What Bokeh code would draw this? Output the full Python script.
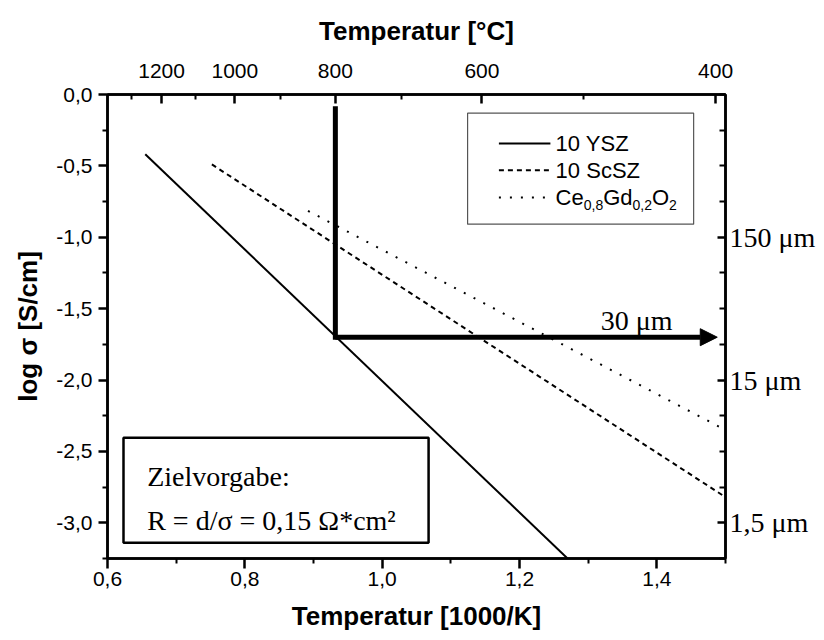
from bokeh.plotting import figure
from bokeh.models import (LinearAxis, FixedTicker, CustomJSTickFormatter, Range1d,
                          Arrow, NormalHead, Label, ColumnDataSource)
from bokeh.embed import file_html
from bokeh.resources import INLINE
from bokeh.core.properties import value

# ---------------- data ----------------
ysz_x = [0.655, 1.270]
ysz_y = [-0.418, -3.250]
scsz_x = [0.752, 1.500]
scsz_y = [-0.490, -2.820]
cgo_x = [0.892, 1.500]
cgo_y = [-0.815, -2.350]

x_major = [0.6, 0.8, 1.0, 1.2, 1.4]
x_minor = [0.7, 0.9, 1.1, 1.3, 1.5]
y_major = [0.0, -0.5, -1.0, -1.5, -2.0, -2.5, -3.0]
y_minor = [-0.25, -0.75, -1.25, -1.75, -2.25, -2.75, -3.25]
top_major_C = [1200, 1000, 800, 600, 400]
top_minor_C = [1300, 1100, 900, 700, 500]
right_major = [-1, -2, -3]
right_labels = ["150 μm", "15 μm", "1,5 μm"]
right_minor = [0.0, -0.25, -0.5, -0.75, -1.25, -1.5, -1.75, -2.25, -2.5, -2.75, -3.25]

target_T_C = 800          # vertical marker at 800 °C
target_log_sigma = -1.7   # 30 µm at R = 0.15 Ohm*cm2
marker_top = -0.1
arrow_tip = 1.488

legend_labels = ["10 YSZ", "10 ScSZ"]
legend_dashes = ["solid", "5 4", "2 9"]

X_RANGE = (0.6, 1.5)
Y_RANGE = (-3.25, 0.0)


def inv_T(tc):
    return 1000.0 / (tc + 273.15)


SANS = "Liberation Sans"
SERIF = "Liberation Serif"

p = figure(width=824, height=640,
           x_range=Range1d(*X_RANGE), y_range=Range1d(*Y_RANGE),
           output_backend="svg", toolbar_location=None,
           min_border_left=107, min_border_right=99,
           min_border_top=94, min_border_bottom=82)
p.grid.visible = False
p.outline_line_color = "black"
p.outline_line_width = 2.5
p.background_fill_color = "white"
p.border_fill_color = "white"


def style_axis(ax, tin, tout, min_in, min_out):
    ax.axis_line_width = 2.5
    ax.axis_line_color = "black"
    ax.major_tick_line_width = 2.5
    ax.minor_tick_line_width = 2
    ax.major_tick_line_color = "black"
    ax.minor_tick_line_color = "black"
    ax.major_tick_in = tin
    ax.major_tick_out = tout
    ax.minor_tick_in = min_in
    ax.minor_tick_out = min_out
    ax.major_label_text_font = SANS
    ax.major_label_text_font_size = "21px"
    ax.major_label_text_color = "black"
    ax.axis_label_text_font = SANS
    ax.axis_label_text_font_size = "26px"
    ax.axis_label_text_font_style = "bold"
    ax.axis_label_text_color = "black"


# bottom axis
xb = p.xaxis[0]
xb.ticker = FixedTicker(ticks=x_major, minor_ticks=x_minor)
xb.formatter = CustomJSTickFormatter(code="return tick.toFixed(1).replace('.', ',');")
xb.axis_label = "Temperatur [1000/K]"
style_axis(xb, 0, 10, 0, 5)
xb.major_label_standoff = 3
xb.axis_label_standoff = 12

# left axis
yl = p.yaxis[0]
yl.ticker = FixedTicker(ticks=y_major, minor_ticks=y_minor)
yl.formatter = CustomJSTickFormatter(code="return tick.toFixed(1).replace('.', ',');")
yl.axis_label = "log σ [S/cm]"
style_axis(yl, 0, 9, 0, 5)
yl.major_label_standoff = 6
yl.axis_label_standoff = 10

# top axis (temperature in °C)
xt = LinearAxis(ticker=FixedTicker(ticks=[inv_T(t) for t in top_major_C],
                                   minor_ticks=[inv_T(t) for t in top_minor_C]),
                formatter=CustomJSTickFormatter(code="return Math.round(1000/tick - 273.15).toString();"),
                axis_label="Temperatur [°C]")
style_axis(xt, 9, 0, 5, 0)
xt.major_label_standoff = 17
xt.axis_label_standoff = 15
p.add_layout(xt, "above")

# right axis (layer thickness)
yr = LinearAxis(ticker=FixedTicker(ticks=right_major, minor_ticks=right_minor),
                formatter=CustomJSTickFormatter(args=dict(vals=right_major, labs=right_labels),
                                                code="const i = vals.indexOf(Math.round(tick)); return i >= 0 ? labs[i] : '';"))
style_axis(yr, 8, 0, 6, 0)
yr.major_label_text_font = SERIF
yr.major_label_text_font_size = "28px"
yr.major_label_standoff = 4
p.add_layout(yr, "right")

# ---------------- boxes (drawn first) ----------------
leg_box = dict(left=1.1244, right=1.4536, top=-0.131, bottom=-0.908)
ziel_box = dict(left=0.6233, right=1.0676, top=-2.405, bottom=-3.140)
p.quad(left=[leg_box["left"]], right=[leg_box["right"]], top=[leg_box["top"]], bottom=[leg_box["bottom"]],
       fill_color="white", line_color="#555555", line_width=1.2)
p.quad(left=[ziel_box["left"]], right=[ziel_box["right"]], top=[ziel_box["top"]], bottom=[ziel_box["bottom"]],
       fill_color="white", line_color="black", line_width=2.5)

# ---------------- series ----------------
p.line(ysz_x, ysz_y, line_color="black", line_width=2)
p.line(scsz_x, scsz_y, line_color="black", line_width=2, line_dash=legend_dashes[1])
p.line(cgo_x, cgo_y, line_color="black", line_width=2, line_dash=legend_dashes[2])

# ---------------- 800 °C / 30 µm marker ----------------
xT = inv_T(target_T_C)
p.line([xT, xT], [marker_top, target_log_sigma], line_color="black", line_width=5, line_cap="square")
p.add_layout(Arrow(end=NormalHead(size=17, fill_color="black", line_color="black", line_width=1),
                   x_start=xT, y_start=target_log_sigma, x_end=arrow_tip, y_end=target_log_sigma,
                   line_color="black", line_width=5))
p.add_layout(Label(x=1.3706, y=-1.585, text="30 μm", text_align="center", text_baseline="alphabetic",
                   text_font=SERIF, text_font_size="28px", text_color="black"))

# ---------------- Zielvorgabe text ----------------
p.add_layout(Label(x=0.6578, y=-2.673, text="Zielvorgabe:", text_align="left", text_baseline="alphabetic",
                   text_font=SERIF, text_font_size="28px", text_color="black"))
p.add_layout(Label(x=0.6578, y=-2.981, text="R = d/σ = 0,15 Ω*cm²", text_align="left",
                   text_baseline="alphabetic", text_font=SERIF, text_font_size="28px", text_color="black"))

# ---------------- legend (manual, for subscripts) ----------------
leg_rows_y = [-0.343, -0.530, -0.721]
leg_line_x = [1.170, 1.245]
leg_text_x = 1.2526
for ry, dash in zip(leg_rows_y, legend_dashes):
    p.line(leg_line_x, [ry, ry], line_color="black", line_width=2, line_dash=dash)

AW = {'C': 0.722, 'e': 0.556, 'G': 0.778, 'd': 0.556, 'O': 0.778,
      '0': 0.556, ',': 0.278, '8': 0.556, '2': 0.556}
pieces = [("Ce", 22, 0), ("0,8", 14, 8), ("Gd", 22, 0), ("0,2", 14, 8), ("O", 22, 0), ("2", 14, 8)]
txt, xs, ys, sizes, xo, yo = [], [], [], [], [], []
for lab, ry in zip(legend_labels, leg_rows_y[:2]):
    txt.append(lab); xs.append(leg_text_x); ys.append(ry); sizes.append("22px"); xo.append(0); yo.append(0)
off = 0.0
for s, fs, dy in pieces:
    txt.append(s); xs.append(leg_text_x); ys.append(leg_rows_y[2]); sizes.append(f"{fs}px")
    xo.append(off); yo.append(dy)
    off += sum(AW[c] for c in s) * fs
src = ColumnDataSource(dict(x=xs, y=ys, text=txt, size=sizes, xo=xo, yo=yo))
p.text(x="x", y="y", text="text", source=src, text_font=value(SANS), text_font_size="size",
       x_offset="xo", y_offset="yo", text_align="left", text_baseline="middle", text_color="black")

open("out.html", "w").write(file_html(p, INLINE))
